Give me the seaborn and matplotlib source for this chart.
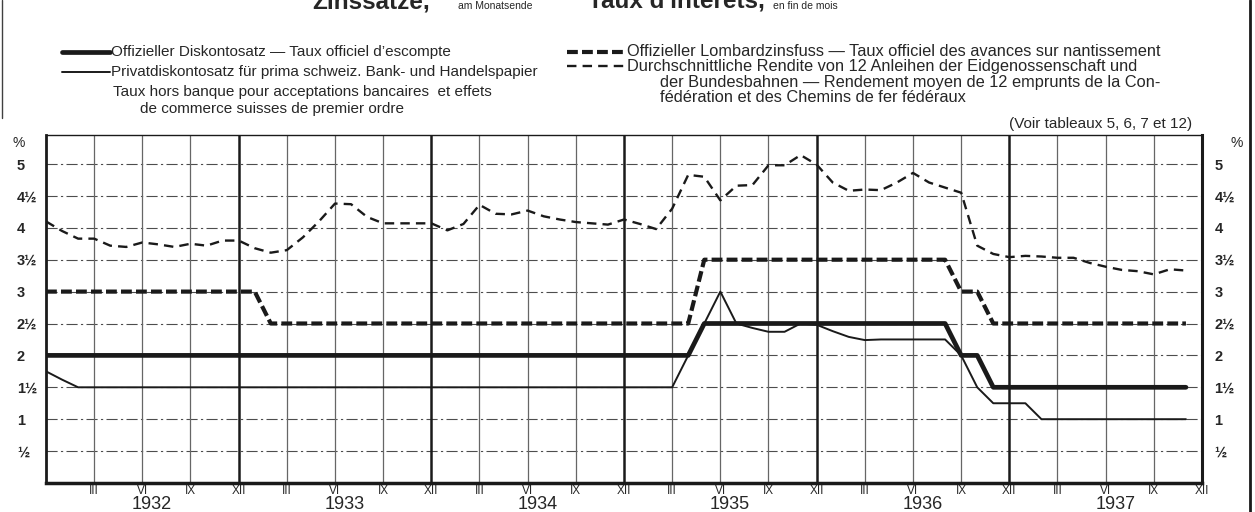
# %%
import pandas as pd
import seaborn as sns
import matplotlib.pyplot as plt
from matplotlib.lines import Line2D
from matplotlib import font_manager

# %% data - month index 0 = end of Dec 1931, one value per month end
months = list(range(72))

discount = [
    2.0, 2.0, 2.0, 2.0, 2.0, 2.0, 2.0, 2.0, 2.0, 2.0, 2.0, 2.0,
    2.0, 2.0, 2.0, 2.0, 2.0, 2.0, 2.0, 2.0, 2.0, 2.0, 2.0, 2.0,
    2.0, 2.0, 2.0, 2.0, 2.0, 2.0, 2.0, 2.0, 2.0, 2.0, 2.0, 2.0,
    2.0, 2.0, 2.0, 2.0, 2.0, 2.5, 2.5, 2.5, 2.5, 2.5, 2.5, 2.5,
    2.5, 2.5, 2.5, 2.5, 2.5, 2.5, 2.5, 2.5, 2.5, 2.0, 2.0, 1.5,
    1.5, 1.5, 1.5, 1.5, 1.5, 1.5, 1.5, 1.5, 1.5, 1.5, 1.5, 1.5,
]
lombard = [
    3.0, 3.0, 3.0, 3.0, 3.0, 3.0, 3.0, 3.0, 3.0, 3.0, 3.0, 3.0,
    3.0, 3.0, 2.5, 2.5, 2.5, 2.5, 2.5, 2.5, 2.5, 2.5, 2.5, 2.5,
    2.5, 2.5, 2.5, 2.5, 2.5, 2.5, 2.5, 2.5, 2.5, 2.5, 2.5, 2.5,
    2.5, 2.5, 2.5, 2.5, 2.5, 3.5, 3.5, 3.5, 3.5, 3.5, 3.5, 3.5,
    3.5, 3.5, 3.5, 3.5, 3.5, 3.5, 3.5, 3.5, 3.5, 3.0, 3.0, 2.5,
    2.5, 2.5, 2.5, 2.5, 2.5, 2.5, 2.5, 2.5, 2.5, 2.5, 2.5, 2.5,
]
private = [
    1.75, 1.62, 1.5, 1.5, 1.5, 1.5, 1.5, 1.5, 1.5, 1.5, 1.5, 1.5,
    1.5, 1.5, 1.5, 1.5, 1.5, 1.5, 1.5, 1.5, 1.5, 1.5, 1.5, 1.5,
    1.5, 1.5, 1.5, 1.5, 1.5, 1.5, 1.5, 1.5, 1.5, 1.5, 1.5, 1.5,
    1.5, 1.5, 1.5, 1.5, 2.0, 2.5, 3.0, 2.5, 2.43, 2.37, 2.37, 2.5,
    2.48, 2.38, 2.29, 2.24, 2.25, 2.25, 2.25, 2.25, 2.25, 2.0, 1.5, 1.25,
    1.25, 1.25, 1.0, 1.0, 1.0, 1.0, 1.0, 1.0, 1.0, 1.0, 1.0, 1.0,
]
bond_yield = [
    4.10, 3.95, 3.83, 3.83, 3.72, 3.70, 3.77, 3.74, 3.70, 3.75, 3.72, 3.80,
    3.80, 3.68, 3.61, 3.65, 3.85, 4.10, 4.38, 4.37, 4.17, 4.07, 4.07, 4.07,
    4.07, 3.96, 4.06, 4.36, 4.22, 4.21, 4.27, 4.18, 4.13, 4.09, 4.07, 4.05,
    4.13, 4.06, 3.98, 4.30, 4.83, 4.80, 4.43, 4.66, 4.67, 4.98, 4.98, 5.14,
    4.99, 4.71, 4.58, 4.60, 4.59, 4.71, 4.86, 4.71, 4.63, 4.55, 3.72, 3.59,
    3.54, 3.56, 3.55, 3.53, 3.53, 3.45, 3.39, 3.34, 3.32, 3.27, 3.35, 3.33,
]

quarter_labels = ['III', 'VI', 'IX', 'XII'] * 6
years = ['1932', '1933', '1934', '1935', '1936', '1937']
pct_ticks = [0.5, 1, 1.5, 2, 2.5, 3, 3.5, 4, 4.5, 5]
pct_labels = ['½', '1', '1½', '2', '2½', '3', '3½', '4', '4½', '5']

df = pd.DataFrame({'month': months, 'discount': discount, 'lombard': lombard,
                   'private': private, 'bond_yield': bond_yield})

# %% style
sns.set_theme(style='white')
names = {f.name for f in font_manager.fontManager.ttflist}
narrow = 'Liberation Sans Narrow' if 'Liberation Sans Narrow' in names else 'Liberation Sans'
plt.rcParams['font.family'] = [narrow, 'DejaVu Sans']

W, H = 1255, 512
def fx(x):
    return x / W
def fy(y):
    return 1 - y / H

fig = plt.figure(figsize=(12.55, 5.12), dpi=100)
fig.patch.set_facecolor('white')
ax = fig.add_axes([fx(46), fy(483), (1202 - 46) / W, (483 - 135) / H])
ax.set_xlim(0, 72)
ax.set_ylim(0, (483 - 135) / 63.8)

# grid
for v in pct_ticks:
    ax.axhline(v, color='0.3', lw=0.8, ls=(0, (10, 3, 2, 3)), zorder=1)
for q in range(3, 72, 3):
    heavy = q % 12 == 0
    ax.axvline(q, color='k' if heavy else '0.4', lw=1.8 if heavy else 0.9, zorder=1)

# %% series
sns.lineplot(data=df, x='month', y='bond_yield', ax=ax, color='k', lw=1.7, zorder=3)
ax.lines[-1].set_dashes([4, 2.6])
sns.lineplot(data=df, x='month', y='lombard', ax=ax, color='k', lw=3.0, zorder=3)
ax.lines[-1].set_dashes([2.6, 1.0])
sns.lineplot(data=df, x='month', y='private', ax=ax, color='k', lw=1.4, zorder=4)
sns.lineplot(data=df, x='month', y='discount', ax=ax, color='k', lw=3.4, zorder=4)

# %% axes
ax.set_xlabel('')
ax.set_ylabel('')
ax.set_xticks(range(3, 73, 3), quarter_labels)
ax.tick_params(axis='x', length=0, pad=1.5, labelsize=8.5)
ax.set_yticks(pct_ticks, pct_labels)
ax.tick_params(axis='y', length=0, pad=21, labelsize=10.5)
for t in ax.get_yticklabels():
    t.set_horizontalalignment('left')
    t.set_fontweight('bold')
for i, yr in enumerate(years):
    ax.text(12 * i + 6.6, -(509 - 483) / 348, yr, transform=ax.get_xaxis_transform(),
            ha='center', va='baseline', fontsize=13)

ax2 = ax.twinx()
ax2.set_ylim(ax.get_ylim())
ax2.set_yticks(pct_ticks, pct_labels)
ax2.tick_params(axis='y', length=0, pad=9, labelsize=10.5)
for t in ax2.get_yticklabels():
    t.set_fontweight('bold')
for s in ax2.spines.values():
    s.set_visible(False)

for side, w in [('left', 2.0), ('bottom', 2.5), ('right', 2.2), ('top', 1.0)]:
    ax.spines[side].set_color('k')
    ax.spines[side].set_linewidth(w)

ax.text(-0.024, 5.33, '%', transform=ax.get_yaxis_transform(), ha='center', va='center', fontsize=10)
ax.text(1.03, 5.33, '%', transform=ax.get_yaxis_transform(), ha='center', va='center', fontsize=10)

# %% title (cut off at the top of the page)
fig.text(fx(312), fy(9), 'Zinssätze,', fontsize=17.5, fontweight='bold',
         family=['Liberation Sans', 'DejaVu Sans'], va='baseline')
fig.text(fx(458), fy(9), 'am Monatsende', fontsize=7.5, va='baseline')
fig.text(fx(588), fy(9), "Taux d'intérêts,", fontsize=17.5, fontweight='bold',
         family=['Liberation Sans', 'DejaVu Sans'], va='baseline')
fig.text(fx(773), fy(9), 'en fin de mois', fontsize=7.5, va='baseline')

# %% legend
fsl = 11
fsr = 11.8
def sample(x0, x1, y, lw, dashes=None):
    ln = Line2D([fx(x0), fx(x1)], [fy(y), fy(y)], color='k', lw=lw, transform=fig.transFigure)
    if dashes:
        ln.set_dashes(dashes)
    fig.add_artist(ln)

sample(62, 110, 52, 3.4)
fig.text(fx(111), fy(52), 'Offizieller Diskontosatz — Taux officiel d’escompte', fontsize=fsl, va='center')
sample(62, 110, 72, 1.4)
fig.text(fx(111), fy(72), 'Privatdiskontosatz für prima schweiz. Bank- und Handelspapier', fontsize=fsl, va='center')
fig.text(fx(113), fy(92), 'Taux hors banque pour acceptations bancaires  et effets', fontsize=fsl, va='center')
fig.text(fx(140), fy(109), 'de commerce suisses de premier ordre', fontsize=fsl, va='center')

sample(567, 625, 52, 3.0, [2.6, 1.0])
fig.text(fx(627), fy(52), 'Offizieller Lombardzinsfuss — Taux officiel des avances sur nantissement', fontsize=fsr, va='center')
sample(567, 625, 66, 1.7, [4, 2.6])
fig.text(fx(627), fy(66), 'Durchschnittliche Rendite von 12 Anleihen der Eidgenossenschaft und', fontsize=fsr, va='center')
fig.text(fx(660), fy(82), 'der Bundesbahnen — Rendement moyen de 12 emprunts de la Con-', fontsize=fsr, va='center')
fig.text(fx(660), fy(98), 'fédération et des Chemins de fer fédéraux', fontsize=fsr, va='center')
fig.text(fx(1192), fy(124), '(Voir tableaux 5, 6, 7 et 12)', fontsize=fsl, va='center', ha='right')

# page edges
fig.add_artist(Line2D([fx(2), fx(2)], [fy(0), fy(118)], color='0.25', lw=1, transform=fig.transFigure))
fig.add_artist(Line2D([fx(1250), fx(1250)], [fy(0), fy(512)], color='k', lw=2, transform=fig.transFigure))

fig.savefig('out.png', dpi=100, facecolor='white')
